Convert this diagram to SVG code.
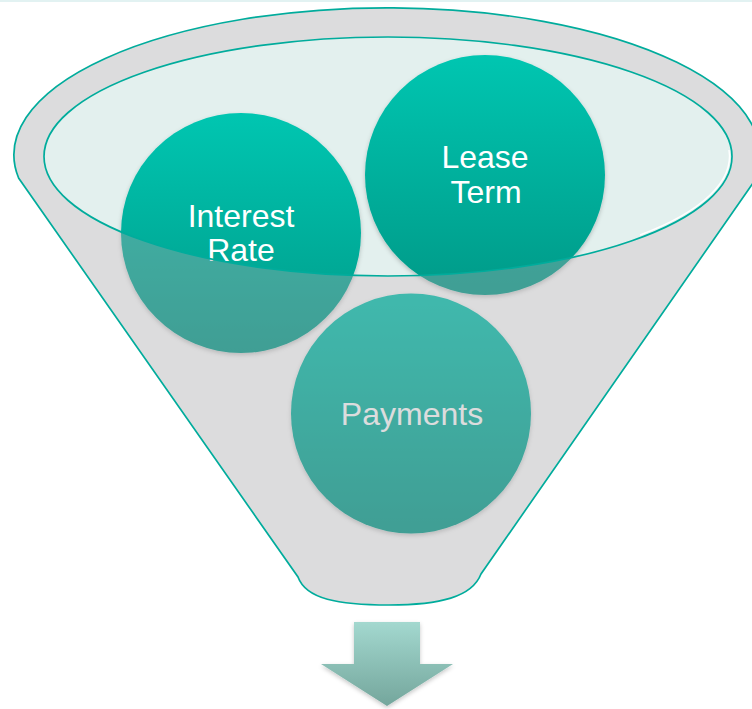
<svg xmlns="http://www.w3.org/2000/svg" width="752" height="709" viewBox="0 0 752 709">
  <defs>
    <linearGradient id="ballFill" x1="0" y1="0" x2="0" y2="1">
      <stop offset="0" stop-color="#00C6B1"/>
      <stop offset="1" stop-color="#009A88"/>
    </linearGradient>
    <linearGradient id="arrowFill" x1="0" y1="0" x2="0" y2="1">
      <stop offset="0" stop-color="#A3D8CF"/>
      <stop offset="1" stop-color="#74A69C"/>
    </linearGradient>
    <filter id="softShadow" x="-20%" y="-20%" width="140%" height="140%">
      <feDropShadow dx="0" dy="2" stdDeviation="2" flood-color="#000" flood-opacity="0.22"/>
    </filter>
    <!-- funnel silhouette: elliptical rim, tapered sides, rounded spout -->
    <path id="funnelOutline" d="M 18.6 178 A 373 147 0 1 1 753 183 L 481 574 C 472 597 440 605 389 605 C 338 605 306 599 298 577 Z"/>
  </defs>
  <style>
    .ball { fill: url(#ballFill); filter: url(#softShadow); }
    .label { font-family: "Liberation Sans", Arial, sans-serif; font-size: 32px; fill: #FFFFFF; text-anchor: middle; }
    .rim { fill: none; stroke: #00AC9C; stroke-width: 1.7; }
  </style>

  <!-- thin band along the top edge -->
  <rect x="0" y="0" width="752" height="2" fill="#E2F2F2"/>

  <!-- funnel mouth (behind the balls) -->
  <g id="funnel-back">
    <ellipse cx="388" cy="156.5" rx="344" ry="119.5" fill="#E3F0EE"/>
  </g>

  <g id="node-interest-rate">
    <circle class="ball" cx="241" cy="233" r="120"/>
    <text class="label" x="241" y="227">Interest</text>
    <text class="label" x="241" y="261">Rate</text>
  </g>

  <g id="node-lease-term">
    <circle class="ball" cx="485" cy="175" r="120"/>
    <text class="label" x="485" y="168">Lease</text>
    <text class="label" x="486" y="203">Term</text>
  </g>

  <g id="node-payments">
    <circle class="ball" cx="411" cy="413.5" r="120"/>
    <text class="label" x="412" y="425">Payments</text>
  </g>

  <!-- translucent funnel body over the balls, open at the mouth -->
  <g id="funnel-front">
    <path fill="#A4A5A7" fill-opacity="0.39" fill-rule="evenodd"
          d="M 18.6 178 A 373 147 0 1 1 753 183 L 481 574 C 472 597 440 605 389 605 C 338 605 306 599 298 577 Z
             M 44 156.5 A 344 119.5 0 1 0 732 156.5 A 344 119.5 0 1 0 44 156.5 Z"/>
    <use href="#funnelOutline" class="rim"/>
    <!-- glint inside the lower right of the mouth -->
    <path d="M 729 150 A 341 116.5 0 0 1 640 235" fill="none" stroke="#FFFFFF" stroke-width="1.4"/>
    <ellipse class="rim" cx="388" cy="156.5" rx="344" ry="119.5"/>
  </g>

  <g id="connectors">
    <path d="M 354 622 L 420 622 L 420 664 L 453 664 L 387 706 L 321 664 L 354 664 Z"
          fill="url(#arrowFill)" filter="url(#softShadow)"/>
  </g>
</svg>
